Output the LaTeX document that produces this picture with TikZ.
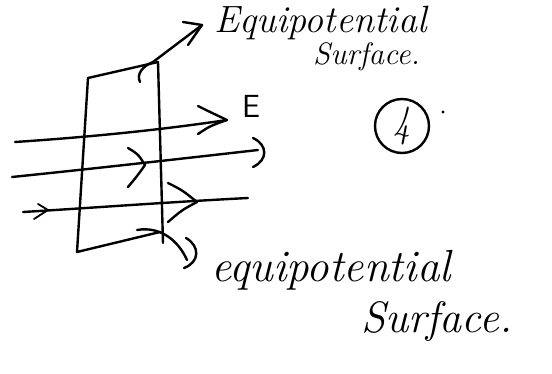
\documentclass[tikz,border=0pt]{standalone}
\usetikzlibrary{arrows.meta}
\begin{document}
\begin{tikzpicture}[x=1pt,y=-1pt, line width=2.4pt, line cap=round, line join=round,
  ink/.style={draw=black},
  hand/.style={font=\fontsize{#1}{#1}\selectfont\itshape, inner sep=0pt, anchor=base west}]
\useasboundingbox[fill=white] (0,0) rectangle (552,374);

% plane (equipotential surface)
\coordinate (tl) at (88,78);
\coordinate (tr) at (158,62);
\coordinate (br) at (160,232);
\coordinate (bl) at (77,252);
\coordinate (rb) at (163,243);
\draw[ink] (tl) -- (tr);
\draw[ink] (tl) -- (bl) -- (br);
\draw[ink] (tr) -- (rb);

% field lines
\coordinate (a1) at (15,142);  \coordinate (a2) at (227,120);
\coordinate (b1) at (12,177);  \coordinate (b2) at (258,150);
\coordinate (c1) at (23,212);  \coordinate (c2) at (248,198);
\draw[ink] (a1) .. controls (90,137) and (160,130) .. (a2);
\draw[ink] (198,106) .. controls (210,112) .. (a2) .. controls (210,126) .. (198,134);
\draw[ink] (b1) .. controls (90,169) and (170,160) .. (b2);
\draw[ink] (253,138) .. controls (268,145) and (268,160) .. (253,167);
\draw[ink] (128,148) .. controls (138,154) .. (145,165) .. controls (138,175) .. (128,187);
\draw[ink] (c1) .. controls (90,208) and (170,202) .. (c2);
\draw[ink] (168,183) .. controls (182,190) .. (197,202) .. controls (182,210) .. (168,222);
\draw[ink, line width=1.8pt] (38,204) -- (48,210) -- (34,219);

% leader to top label
\coordinate (lt0) at (140,82);
\coordinate (lt1) at (202,25);
\draw[ink] (lt0) .. controls (136,74) and (143,66) .. (153,62) -- (lt1);
\draw[ink] (183,22) -- (lt1) -- (188,45);

% leader to bottom label
\coordinate (lb0) at (137,230);
\coordinate (lb1) at (187,260);
\draw[ink] (lb0) .. controls (160,226) and (178,240) .. (lb1);
\draw[ink] (186,238) .. controls (200,246) and (200,262) .. (184,268);

% labels
\node[hand=38] (topA) at (213,33) {Equipotential};
\node[hand=31] (topB) at (312,65) {Surface.};
\node[font=\fontsize{32}{32}\selectfont\sffamily, inner sep=0pt, anchor=base west] (E) at (241,118) {E};
\node[circle, draw, line width=2.4pt, minimum size=54pt, inner sep=0pt,
      font=\fontsize{34}{34}\selectfont\itshape] (four) at (402,126) {\scalebox{1}[1.3]{4}};
\fill (443,112) circle (1.6pt);
\node[hand=45] (botA) at (210,282) {equipotential};
\node[hand=44] (botB) at (360,333) {Surface.};
\end{tikzpicture}
\end{document}
